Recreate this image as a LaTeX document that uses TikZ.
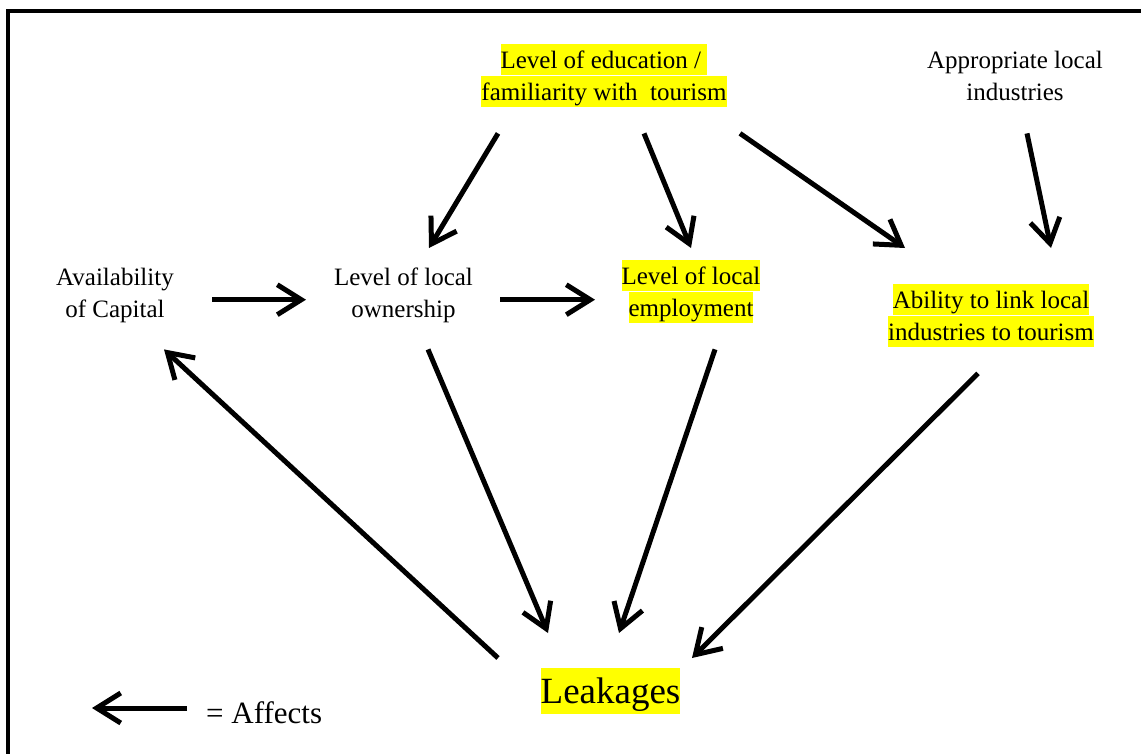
\documentclass[tikz,border=0pt]{standalone}
\usepackage{fontspec}
\setmainfont{Liberation Serif}
\usetikzlibrary{arrows.meta,calc}

\begin{document}
\begin{tikzpicture}[x=1pt,y=-1pt,
    >={Straight Barb[length=24pt,width=30pt]},
    affects/.style={line width=5pt,->},
    factor/.style={inner sep=0,anchor=north,align=center,font=\fontsize{25}{31}\selectfont}]
% ------------------------------------------------ highlight colour
\definecolor{hl_yellow}{RGB}{255,255,0} %#FFFF00

\newcommand{\hlstrut}{\rule[-0.28em]{0pt}{1.24em}}% one line of text, height and depth
\newcommand{\hlline}[1]{{\setlength{\fboxsep}{0pt}\colorbox{hl_yellow}{\hlstrut #1}}}

\useasboundingbox (0,0) rectangle (1141,753);

% frame, only its left and top sides are on the page
\draw[line width=4pt] (8,770) -- (8,10.5) -- (1160,10.5);

% ------------------------------------------------ factors
\node[factor] (edu) at (604,44) {\hlline{Level of education /\ }\hspace{12pt}\\ \hlline{familiarity with\ \ tourism}};
\node[factor] (app) at (1015,44) {\hlstrut Appropriate local\\ \hlstrut industries};
\node[factor] (cap) at (115,261) {\hlstrut Availability\\ \hlstrut of Capital};
\node[factor] (own) at (403.5,261) {\hlstrut Level of local\\ \hlstrut ownership};
\node[factor] (emp) at (691,260) {\hlline{Level of local}\\ \hlline{employment}};
\node[factor] (abl) at (991,284) {\hlline{Ability to link local}\\ \hlline{industries to tourism}};
\node[factor,font=\fontsize{37}{46}\selectfont] (leak) at (610.5,668) {\hlline{Leakages}};

% key
\node[inner sep=0,anchor=base west,font=\fontsize{31}{38}\selectfont] (key) at (206,723) {= Affects};

% ------------------------------------------------ arrows
\draw[affects] ($(edu.south)+(-106,26)$) -- ($(own.north)+(25.5,-13)$);
\draw[affects] ($(edu.south)+(40,26)$) -- ($(emp.north)+(0,-12)$);
\draw[affects] ($(edu.south)+(136,26)$) -- ($(abl.north)+(-86,-36)$);
\draw[affects] ($(app.south)+(12,26)$) -- ($(abl.north)+(60,-36)$);

\draw[affects] ($(cap)+(97,7)$) -- ($(own)+(-97.5,7)$);
\draw[affects] ($(own)+(96.5,7)$) -- ($(emp)+(-96,8)$);

\draw[affects] ($(own.south)+(24.5,25)$) -- ($(leak.north)+(-62.5,-35)$);
\draw[affects] ($(emp.south)+(24,26)$) -- ($(leak.north)+(8.5,-35)$);
\draw[affects] ($(abl.south)+(-13,26)$) -- ($(leak.north)+(81.5,-10)$);
\draw[affects] ($(leak.north)+(-112.5,-10)$) -- ($(cap.south)+(49,25)$);

\draw[affects] ($(key.base west)+(-19,-15)$) -- ($(key.base west)+(-114,-15)$);

\end{tikzpicture}
\end{document}
